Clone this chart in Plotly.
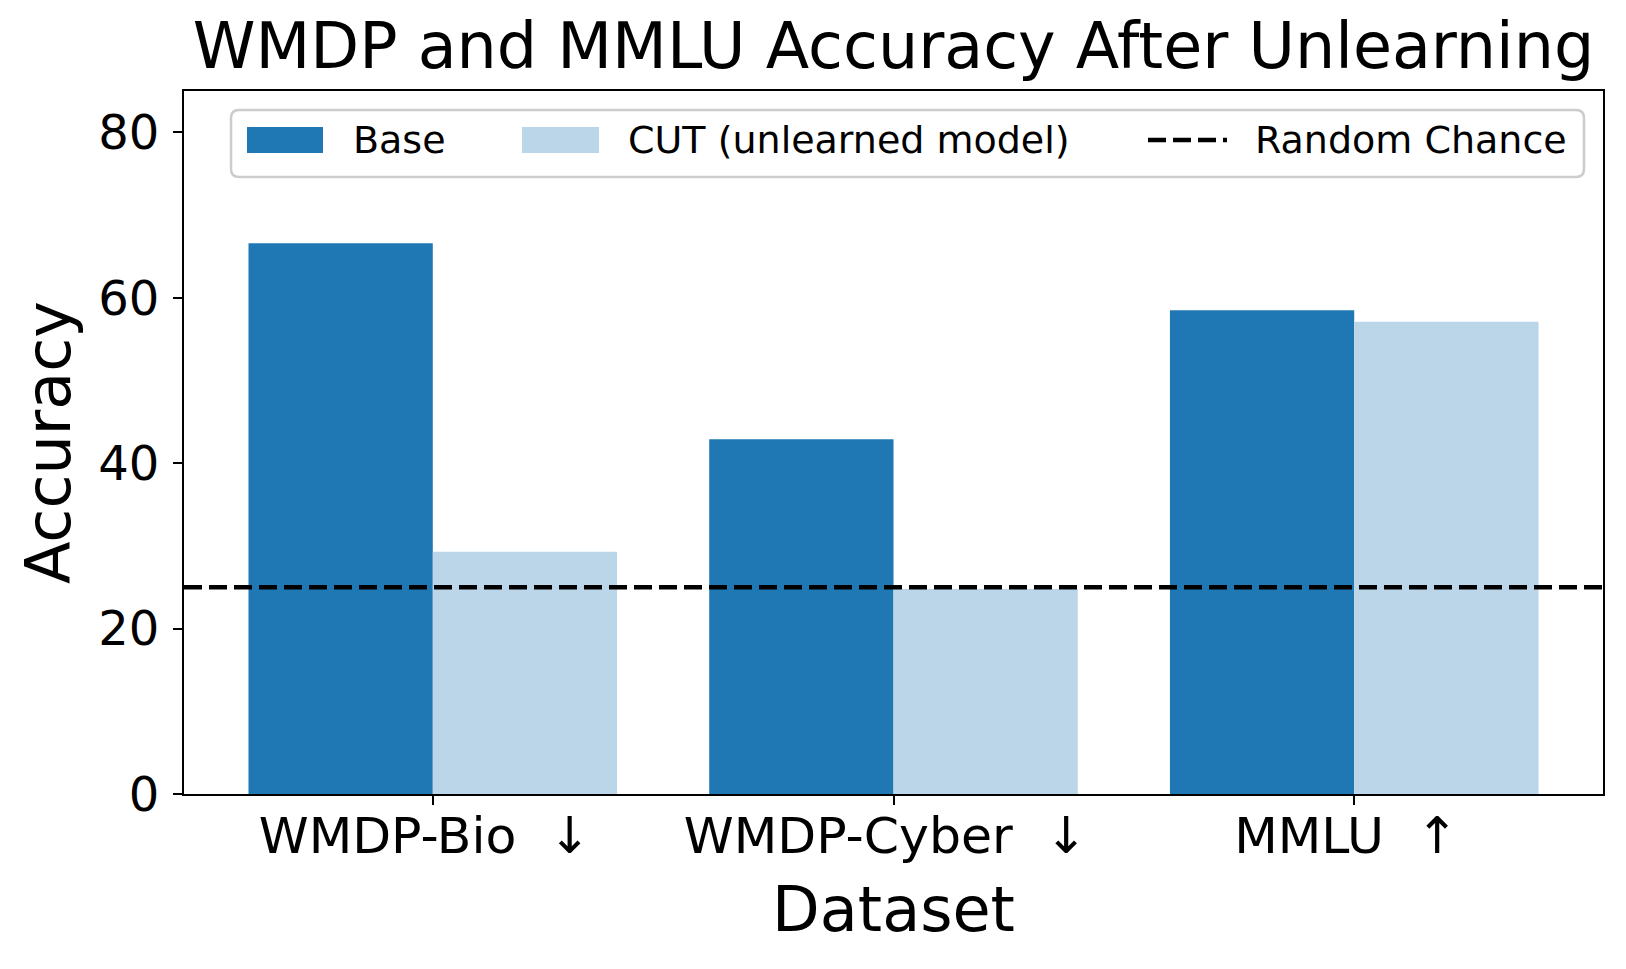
import plotly.graph_objects as go

# ---- data ----
datasets = ["WMDP-Bio  \u2193", "WMDP-Cyber  \u2193", "MMLU  \u2191"]
base_acc = [66.6, 42.9, 58.5]
cut_acc = [29.3, 24.8, 57.1]
random_chance = 25
series_names = ["Base", "CUT (unlearned model)", "Random Chance"]
y_ticks = [0, 20, 40, 60, 80]

BASE_COLOR = "#1f77b4"
CUT_COLOR = "#bcd6e9"
FONT = "DejaVu Sans"
DASH = "18px,7px"

# page offset (body margin) and figure geometry (pixels, page coordinates)
OFF = 8
FW, FH = 1626 - 2 * OFF, 969 - 2 * OFF
L, R, T, B = 184, 1603, 91, 794
PW, PH = R - L, B - T


def px(x):
    return (x - L) / PW


def py(y):
    return (B - y) / PH


fig = go.Figure()
fig.add_trace(go.Bar(x=datasets, y=base_acc, name=series_names[0],
                     marker=dict(color=BASE_COLOR, line=dict(width=0)),
                     showlegend=False))
fig.add_trace(go.Bar(x=datasets, y=cut_acc, name=series_names[1],
                     marker=dict(color=CUT_COLOR, line=dict(width=0)),
                     showlegend=False))

shapes = []
# random chance line across the axes
shapes.append(dict(type="line", xref="paper", yref="y", x0=0, x1=1,
                   y0=random_chance, y1=random_chance,
                   line=dict(color="black", width=4.5, dash=DASH),
                   layer="above"))

# ---- legend (drawn manually to mimic matplotlib style) ----
bx0, bx1, by0, by1, rad = 231, 1584, 110, 177, 8
rx, ry = rad / PW, rad / PH
X0, X1, Y0, Y1 = px(bx0), px(bx1), py(by1), py(by0)
path = (f"M{X0+rx},{Y0} L{X1-rx},{Y0} Q{X1},{Y0} {X1},{Y0+ry} "
        f"L{X1},{Y1-ry} Q{X1},{Y1} {X1-rx},{Y1} L{X0+rx},{Y1} "
        f"Q{X0},{Y1} {X0},{Y1-ry} L{X0},{Y0+ry} Q{X0},{Y0} {X0+rx},{Y0} Z")
shapes.append(dict(type="path", xref="paper", yref="paper", path=path,
                   fillcolor="rgba(255,255,255,0.8)",
                   line=dict(color="#cccccc", width=2.5), layer="above"))
for (x0, x1, col) in [(247, 323, BASE_COLOR), (522, 599, CUT_COLOR)]:
    shapes.append(dict(type="rect", xref="paper", yref="paper",
                       x0=px(x0), x1=px(x1), y0=py(153), y1=py(127),
                       fillcolor=col, line=dict(width=0), layer="above"))
shapes.append(dict(type="line", xref="paper", yref="paper",
                   x0=px(1148), x1=px(1227), y0=py(140), y1=py(140),
                   line=dict(color="black", width=4.5, dash=DASH),
                   layer="above"))

annotations = []
for name, xl in zip(series_names, [351, 626, 1253]):
    annotations.append(dict(text=name, xref="paper", yref="paper",
                            x=px(xl), y=py(140), xanchor="left",
                            yanchor="middle", showarrow=False,
                            font=dict(family=FONT, size=38, color="black")))

fig.update_layout(
    width=FW, height=FH,
    margin=dict(l=L - OFF, r=FW - (R - OFF), t=T - OFF, b=FH - (B - OFF),
                pad=0),
    paper_bgcolor="white", plot_bgcolor="white",
    barmode="group", bargap=0.2, bargroupgap=0,
    font=dict(family=FONT, color="black"),
    title=dict(text="WMDP and MMLU Accuracy After Unlearning",
               x=0.5, xref="paper", xanchor="center",
               y=1 - (46 - OFF) / FH, yanchor="middle", yref="container",
               font=dict(family=FONT, size=63.5, color="black")),
    xaxis=dict(range=[-0.54, 2.54], showline=True, mirror=True,
               linecolor="black", linewidth=2, ticks="outside", ticklen=9,
               tickwidth=2, tickcolor="black", showgrid=False, zeroline=False,
               tickfont=dict(family=FONT, size=50.5, color="black"),
               ticklabelstandoff=-13, ticklabelshift=-8,
               title=dict(text="Dataset", standoff=24,
                          font=dict(family=FONT, size=62, color="black"))),
    yaxis=dict(range=[0, 85], tickvals=y_ticks, showline=True, mirror=True,
               linecolor="black", linewidth=2, ticks="outside", ticklen=9,
               tickwidth=2, tickcolor="black", showgrid=False, zeroline=False,
               tickfont=dict(family=FONT, size=48, color="black"),
               ticklabelstandoff=4,
               title=dict(text="Accuracy", standoff=8,
                          font=dict(family=FONT, size=62, color="black"))),
    shapes=shapes, annotations=annotations, showlegend=False,
)

fig.write_html("out.html")
